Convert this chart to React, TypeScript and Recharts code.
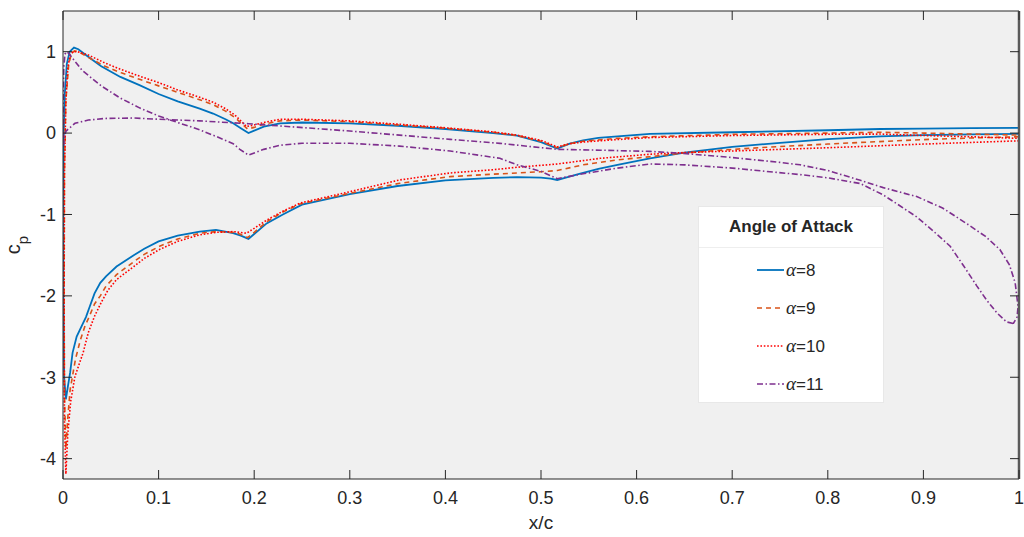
import React from 'react';
import { LineChart, Line, XAxis, YAxis, CartesianGrid, Legend } from 'recharts';

const xTicks = [0, 0.1, 0.2, 0.3, 0.4, 0.5, 0.6, 0.7, 0.8, 0.9, 1];
const yTicks = [-4, -3, -2, -1, 0, 1];

// [x/c, cp] along each loop: trailing edge -> suction side -> leading edge -> pressure side -> trailing edge
const alpha8 = [
  [1.0, -0.01], [0.95, -0.015], [0.9, -0.025], [0.855, -0.04], [0.8, -0.075], [0.75, -0.12], [0.7, -0.17],
  [0.65, -0.24], [0.614, -0.31], [0.58, -0.39], [0.56, -0.44], [0.54, -0.5], [0.525, -0.55], [0.517, -0.576],
  [0.51, -0.56], [0.5, -0.548], [0.475, -0.54], [0.45, -0.55], [0.4, -0.58], [0.35, -0.65], [0.3, -0.75],
  [0.25, -0.88], [0.23, -1.0], [0.213, -1.11], [0.2, -1.24], [0.194, -1.3], [0.186, -1.26], [0.178, -1.23],
  [0.16, -1.19], [0.143, -1.21], [0.12, -1.26], [0.1, -1.33], [0.085, -1.42], [0.074, -1.5], [0.056, -1.64],
  [0.045, -1.76], [0.039, -1.84], [0.033, -1.97], [0.028, -2.13], [0.024, -2.26], [0.02, -2.36], [0.0143, -2.5],
  [0.01, -2.7], [0.0075, -2.94], [0.005, -3.12], [0.003, -3.27],
  [0.0012, -3.0], [0.0004, -2.0], [0.0003, -1.0], [0.0008, 0.0], [0.002, 0.5], [0.004, 0.85], [0.007, 1.0],
  [0.0115, 1.05], [0.016, 1.03], [0.026, 0.94], [0.04, 0.82], [0.06, 0.69], [0.08, 0.59], [0.1, 0.48],
  [0.12, 0.39], [0.143, 0.3], [0.157, 0.24], [0.17, 0.17], [0.178, 0.12], [0.186, 0.06], [0.194, 0.0],
  [0.2, 0.03], [0.21, 0.08], [0.227, 0.12], [0.25, 0.13], [0.3, 0.12], [0.35, 0.09], [0.4, 0.05], [0.45, 0.0],
  [0.475, -0.03], [0.5, -0.11], [0.517, -0.19], [0.53, -0.13], [0.544, -0.09], [0.56, -0.06], [0.58, -0.04],
  [0.614, -0.01], [0.7, 0.01], [0.8, 0.035], [0.855, 0.05], [0.9, 0.055], [0.95, 0.06], [1.0, 0.065],
];

const alpha9 = [
  [1.0, -0.045], [0.95, -0.06], [0.9, -0.08], [0.834, -0.115], [0.8, -0.135], [0.75, -0.165], [0.7, -0.2],
  [0.649, -0.245], [0.614, -0.29], [0.579, -0.33], [0.544, -0.39], [0.525, -0.44], [0.517, -0.46], [0.5, -0.475],
  [0.475, -0.49], [0.45, -0.505], [0.405, -0.535], [0.352, -0.617], [0.3, -0.74], [0.248, -0.87], [0.23, -0.97],
  [0.213, -1.09], [0.2, -1.22], [0.193, -1.285], [0.185, -1.24], [0.178, -1.22], [0.16, -1.21], [0.143, -1.23],
  [0.12, -1.3], [0.101, -1.39], [0.085, -1.49], [0.074, -1.58], [0.056, -1.74], [0.045, -1.88], [0.039, -2.0],
  [0.033, -2.1], [0.0265, -2.28], [0.023, -2.37], [0.018, -2.55], [0.013, -2.78], [0.0075, -3.15], [0.005, -3.5],
  [0.003, -3.88],
  [0.0015, -3.2], [0.0012, -2.0], [0.0015, -0.5], [0.003, 0.4], [0.006, 0.85], [0.009, 0.98], [0.012, 1.01],
  [0.016, 1.0], [0.0265, 0.93], [0.044, 0.82], [0.061, 0.74], [0.08, 0.66], [0.1, 0.58], [0.12, 0.5],
  [0.143, 0.41], [0.157, 0.35], [0.17, 0.27], [0.18, 0.19], [0.193, 0.05], [0.2, 0.07], [0.21, 0.11],
  [0.227, 0.15], [0.25, 0.16], [0.3, 0.14], [0.35, 0.1], [0.4, 0.06], [0.45, 0.01], [0.475, -0.03], [0.5, -0.1],
  [0.517, -0.18], [0.53, -0.13], [0.544, -0.1], [0.579, -0.065], [0.614, -0.045], [0.7, -0.015], [0.8, 0.0],
  [0.855, 0.01], [0.9, 0.0], [0.95, -0.012], [1.0, -0.025],
];

const alpha10 = [
  [1.0, -0.095], [0.95, -0.115], [0.9, -0.135], [0.834, -0.165], [0.8, -0.18], [0.75, -0.2], [0.7, -0.22],
  [0.649, -0.24], [0.614, -0.26], [0.562, -0.31], [0.517, -0.38], [0.475, -0.42], [0.45, -0.45], [0.405, -0.49],
  [0.352, -0.576], [0.3, -0.72], [0.248, -0.86], [0.23, -0.96], [0.213, -1.07], [0.2, -1.17], [0.192, -1.23],
  [0.185, -1.22], [0.178, -1.21], [0.16, -1.22], [0.143, -1.25], [0.12, -1.33], [0.101, -1.43], [0.085, -1.54],
  [0.074, -1.64], [0.056, -1.8], [0.047, -1.93], [0.04, -2.08], [0.033, -2.25], [0.0265, -2.45], [0.021, -2.7],
  [0.0125, -2.99], [0.008, -3.3], [0.005, -3.7], [0.003, -4.19],
  [0.0015, -3.5], [0.0012, -2.0], [0.0015, -0.5], [0.003, 0.4], [0.005, 0.8], [0.0075, 0.96], [0.0105, 1.0],
  [0.015, 1.0], [0.0265, 0.96], [0.044, 0.86], [0.061, 0.78], [0.08, 0.7], [0.1, 0.62], [0.12, 0.53],
  [0.143, 0.44], [0.157, 0.38], [0.17, 0.3], [0.18, 0.22], [0.192, 0.08], [0.2, 0.1], [0.21, 0.13],
  [0.227, 0.17], [0.25, 0.17], [0.3, 0.15], [0.35, 0.11], [0.4, 0.065], [0.45, 0.015], [0.475, -0.025],
  [0.5, -0.09], [0.517, -0.17], [0.53, -0.13], [0.544, -0.11], [0.579, -0.08], [0.614, -0.055], [0.7, -0.03],
  [0.8, -0.015], [0.855, -0.012], [0.9, -0.03], [0.95, -0.045], [1.0, -0.065],
];

const alpha11 = [
  [0.994, -2.34], [0.987, -2.32], [0.977, -2.21], [0.966, -2.05], [0.956, -1.88], [0.942, -1.63], [0.928, -1.39],
  [0.91, -1.2], [0.893, -1.03], [0.875, -0.89], [0.858, -0.76], [0.834, -0.62], [0.8, -0.55], [0.771, -0.51],
  [0.735, -0.47], [0.7, -0.43], [0.65, -0.39], [0.614, -0.38], [0.58, -0.43], [0.544, -0.5], [0.517, -0.56],
  [0.5, -0.47], [0.475, -0.39], [0.457, -0.31], [0.405, -0.22], [0.352, -0.16], [0.3, -0.125], [0.25, -0.125],
  [0.227, -0.15], [0.21, -0.2], [0.194, -0.27], [0.185, -0.2], [0.178, -0.13], [0.16, -0.04], [0.143, 0.04],
  [0.12, 0.13], [0.1, 0.21], [0.08, 0.31], [0.06, 0.43], [0.04, 0.58], [0.02, 0.77], [0.01, 0.92], [0.006, 0.98],
  [0.004, 1.0], [0.002, 0.97], [0.0008, 0.8], [0.0003, 0.4], [0.0003, 0.0], [0.0006, -0.15], [0.0015, -0.05],
  [0.003, 0.02], [0.0055, 0.05], [0.0125, 0.12], [0.0265, 0.16], [0.044, 0.18], [0.074, 0.185], [0.1, 0.17],
  [0.143, 0.15], [0.194, 0.115], [0.248, 0.07], [0.3, 0.025], [0.352, -0.025], [0.405, -0.077], [0.457, -0.126],
  [0.517, -0.2], [0.562, -0.21], [0.614, -0.225], [0.649, -0.25], [0.7, -0.3], [0.75, -0.36], [0.771, -0.39],
  [0.8, -0.46], [0.834, -0.58], [0.858, -0.67], [0.893, -0.78], [0.92, -0.92], [0.945, -1.11], [0.965, -1.27],
  [0.98, -1.43], [0.99, -1.62], [0.996, -1.84], [0.999, -2.13], [0.998, -2.26], [0.994, -2.34],
];

const toPoints = (pts: number[][]) => pts.map(([x, cp]) => ({ x, cp }));

const series = [
  { angle: 8, data: toPoints(alpha8), color: '#0072BD', dash: undefined, width: 1.8 },
  { angle: 9, data: toPoints(alpha9), color: '#D95319', dash: '5 4', width: 1.6 },
  { angle: 10, data: toPoints(alpha10), color: '#FF0000', dash: '1.6 1.8', width: 1.6 },
  { angle: 11, data: toPoints(alpha11), color: '#7E2F8E', dash: '6 2.5 1.5 2.5', width: 1.6 },
];

const sans = '"Liberation Sans", Arial, Helvetica, sans-serif';
const axisColor = '#262626';
const TICK = 9;

// chart frame
const CHART_W = 1024;
const CHART_H = 537;
const MARGIN = { top: 10, right: 4, bottom: 0, left: 0 };
const PLOT_TOP = MARGIN.top + 1; // + height of the (label-less) top axis
const PLOT_RIGHT = CHART_W - MARGIN.right - 1; // - width of the (label-less) right axis

// MATLAB-style box ticks: marks point into the plot, mirrored on the opposite side
function BottomTick({ x, y, payload }: any) {
  return (
    <g>
      <line x1={x} y1={y} x2={x} y2={y - TICK} stroke={axisColor} />
      <line x1={x} y1={PLOT_TOP} x2={x} y2={PLOT_TOP + TICK} stroke={axisColor} />
      <text x={x} y={y + 12} dy="0.71em" textAnchor="middle" fill={axisColor} fontSize={18} fontFamily={sans}>
        {String(payload.value)}
      </text>
    </g>
  );
}

function LeftTick({ x, y, payload }: any) {
  return (
    <g>
      <line x1={x} y1={y} x2={x + TICK} y2={y} stroke={axisColor} />
      <line x1={PLOT_RIGHT} y1={y} x2={PLOT_RIGHT - TICK} y2={y} stroke={axisColor} />
      <text x={x - 7} y={y} dy="0.355em" textAnchor="end" fill={axisColor} fontSize={18} fontFamily={sans}>
        {String(payload.value)}
      </text>
    </g>
  );
}

function AngleLegend() {
  return (
    <div
      style={{
        width: 186,
        height: 197,
        background: '#fff',
        border: '1px solid #e8e8e8',
        boxSizing: 'border-box',
        fontFamily: sans,
        color: axisColor,
      }}
    >
      <div
        style={{
          height: 40,
          borderBottom: '1px solid #eeeeee',
          display: 'flex',
          alignItems: 'center',
          justifyContent: 'center',
          fontWeight: 'bold',
          fontSize: 17,
        }}
      >
        Angle of Attack
      </div>
      <div style={{ paddingTop: 3 }}>
        {series.map((s) => (
          <div key={s.angle} style={{ height: 38, display: 'flex', alignItems: 'center', paddingLeft: 58 }}>
            <svg width={27} height={6} style={{ display: 'block' }}>
              <line x1={0} y1={3} x2={27} y2={3} stroke={s.color} strokeWidth={s.width} strokeDasharray={s.dash} />
            </svg>
            <span style={{ marginLeft: 2, fontSize: 17, lineHeight: '17px' }}>
              <span style={{ fontFamily: '"Liberation Serif", "DejaVu Serif", serif', fontStyle: 'italic', fontSize: 19 }}>
                α
              </span>
              ={s.angle}
            </span>
          </div>
        ))}
      </div>
    </div>
  );
}

function YLabel(props: any) {
  const vb = props.viewBox || { x: 0, y: PLOT_TOP, width: 63, height: 468 };
  const cy = vb.y + vb.height / 2;
  return (
    <text
      transform={`translate(20, ${cy}) rotate(-90)`}
      textAnchor="middle"
      fill={axisColor}
      fontFamily={sans}
      fontSize={20}
    >
      c
      <tspan fontSize={15} dy={8}>
        p
      </tspan>
    </text>
  );
}

export default function App() {
  return (
    <div style={{ position: 'absolute', left: 0, top: 0, width: CHART_W, height: CHART_H, background: '#fff' }}>
      <LineChart width={CHART_W} height={CHART_H} margin={MARGIN}>
        <CartesianGrid horizontal={false} vertical={false} fill="#f0f0f0" />
        <XAxis
          type="number"
          dataKey="x"
          domain={[0, 1]}
          ticks={xTicks}
          interval={0}
          allowDataOverflow
          height={58}
          tickSize={0}
          tickMargin={0}
          tickLine={false}
          tick={<BottomTick />}
          axisLine={{ stroke: axisColor }}
          label={{ value: 'x/c', position: 'insideBottom', offset: 8, fill: axisColor, fontSize: 19, fontFamily: sans }}
        />
        <XAxis
          xAxisId="top"
          orientation="top"
          type="number"
          domain={[0, 1]}
          height={1}
          tick={false}
          tickLine={false}
          axisLine={{ stroke: axisColor }}
        />
        <YAxis
          type="number"
          domain={[-4.25, 1.5]}
          ticks={yTicks}
          interval={0}
          allowDataOverflow
          width={63}
          tickSize={0}
          tickMargin={0}
          tickLine={false}
          tick={<LeftTick />}
          axisLine={{ stroke: axisColor }}
          label={<YLabel />}
        />
        <YAxis
          yAxisId="right"
          orientation="right"
          type="number"
          domain={[-4.25, 1.5]}
          width={1}
          tick={false}
          tickLine={false}
          axisLine={{ stroke: '#5a5a5a', strokeWidth: 2.5 }}
        />
        {series.map((s) => (
          <Line
            key={s.angle}
            data={s.data}
            dataKey="cp"
            type="linear"
            stroke={s.color}
            strokeWidth={s.width}
            strokeDasharray={s.dash}
            dot={false}
            activeDot={false}
            isAnimationActive={false}
          />
        ))}
        <Legend
          layout="horizontal"
          align="center"
          verticalAlign="middle"
          content={() => <AngleLegend />}
          wrapperStyle={{ left: 698, top: 206, width: 186, height: 197 }}
        />
      </LineChart>
    </div>
  );
}
